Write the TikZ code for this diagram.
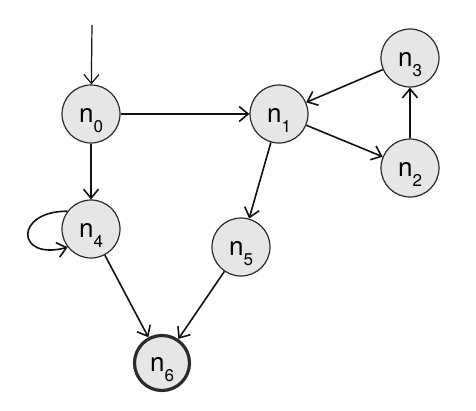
\documentclass[tikz,border=0pt]{standalone}
\usepackage{fontspec}
\setmainfont{TeX Gyre Heros}
\usepackage{xcolor}
\usepackage{tikz}
\usetikzlibrary{positioning, arrows.meta}
\definecolor{stateFill}{HTML}{E6E6E6}
\definecolor{stateLine}{HTML}{2B2B2B}
\definecolor{edgeLine}{HTML}{111111}
\newcommand{\stname}[1]{n\raisebox{-10pt}{\fontsize{17}{17}\selectfont #1}}

\begin{document}
\begin{tikzpicture}[x=1pt, y=-1pt,
    state/.style={circle, draw=stateLine, fill=stateFill, line width=1.2pt,
      minimum size=58pt, inner sep=0pt, text height=18pt, text depth=2pt,
      font=\fontsize{26}{26}\selectfont},
    final/.style={state, line width=3.2pt, minimum size=55pt},
    edge/.style={-{Straight Barb[length=9pt, width=15pt]}, edgeLine,
      line width=1.6pt}]
        \useasboundingbox (0,0) rectangle (476,410);
        % states
        \node[state] (n0) at (91,114) {\stname{0}};
        \node[state] (n1) at (279,114) {\stname{1}};
        \node[state] (n2) at (410,168) {\stname{2}};
        \node[state] (n3) at (410,58) {\stname{3}};
        \node[state] (n4) at (91,229) {\stname{4}};
        \node[state] (n5) at (241,247) {\stname{5}};
        \node[final] (n6) at (162,363) {\stname{6}};
        \coordinate (start) at (92,25);
        % transitions
        \draw[edge, line width=1.2pt] (start) -- (n0);
        \draw[edge] (n0) -- (n1);
        \draw[edge] (n0) -- (n4);
        \draw[edge] (n1) -- (n2);
        \draw[edge] (n2) -- (n3);
        \draw[edge] (n3) -- (n1);
        \draw[edge] (n1) -- (n5);
        \draw[edge] (n4) -- (n6);
        \draw[edge] (n5) -- (n6);
        \draw[edge] (n4.143) to[out=180, in=195, looseness=3.8] (n4.218);
      \end{tikzpicture}
\end{document}
